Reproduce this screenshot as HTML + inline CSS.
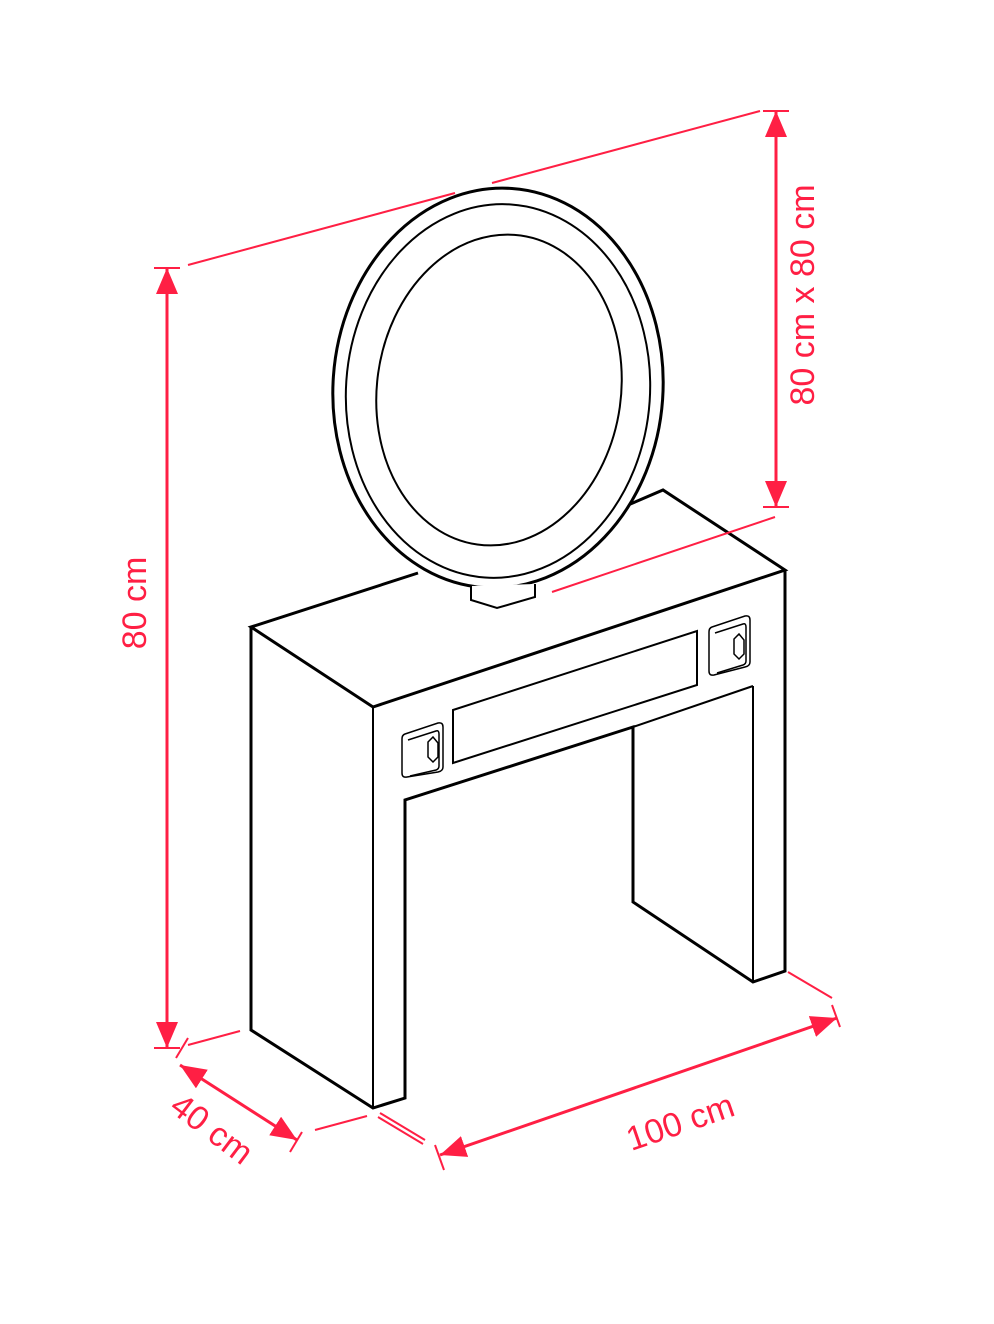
<!DOCTYPE html>
<html><head><meta charset="utf-8"><style>html,body{margin:0;padding:0;background:#fff}svg{display:block}</style></head>
<body>
<svg width="994" height="1324" viewBox="0 0 994 1324" xmlns="http://www.w3.org/2000/svg">
<defs>
<marker id="ah" viewBox="0 0 10 10" refX="10" refY="5" markerWidth="8" markerHeight="8" markerUnits="userSpaceOnUse" orient="auto-start-reverse"><path d="M0,0 L10,5 L0,10 z" fill="#ff1f44"/></marker>
<marker id="ab" viewBox="0 0 10 10" refX="10" refY="5" markerWidth="26" markerHeight="22" markerUnits="userSpaceOnUse" orient="auto-start-reverse" preserveAspectRatio="none"><path d="M0,0 L10,5 L0,10 z" fill="#ff1f44"/></marker>
</defs>
<g fill="none" stroke="#000" stroke-width="3" stroke-linejoin="miter">
<!-- table -->
<polyline points="418,573 251,627 373,707 785,570 663,490 628,505"/>
<polyline points="251,627 251,1030 373,1108 405,1098 405,800 633,727 633,902 753,982 785,971 785,570"/>
<line x1="373" y1="707" x2="373" y2="1108" stroke-width="2"/>
<line x1="633" y1="727" x2="753" y2="686" stroke-width="2"/>
<line x1="753" y1="686" x2="753" y2="982" stroke-width="2"/>
<polygon points="453,710 697,631 697,685 453,763" stroke-width="2"/>
<!-- knobs -->
<g stroke-width="1.5">
<path d="M405,734 L438,723 Q443,722 443,727 L443,767 Q443,771 438,772 L407,777 Q402,778 402,773 L402,739 Q402,735 405,734z"/>
<path d="M408,740 L436,731 Q439,730 439,734 L439,766 Q439,769 436,770 L410,776"/>
<polygon points="433,737 438,743 438,757 433,762 428,757 428,742"/>
<path d="M712,627 L745,616 Q750,615 750,620 L750,662 Q750,666 745,667 L714,675 Q709,676 709,671 L709,632 Q709,628 712,627z"/>
<path d="M715,633 L743,624 Q746,623 746,627 L746,661 Q746,664 743,665 L717,673"/>
<polygon points="739,634 744,640 744,654 739,659 734,654 734,639"/>
</g>
<!-- mirror -->
<ellipse cx="498" cy="388" rx="165" ry="200" fill="#fff" transform="rotate(4 498 388)"/>
<ellipse cx="498" cy="391" rx="152" ry="187" stroke-width="2" transform="rotate(4 498 391)"/>
<ellipse cx="499" cy="390" rx="122" ry="156" stroke-width="2" transform="rotate(8 499 390)"/>
<polyline points="471,586 471,600 497,608 535,597 535,584" stroke-width="2" fill="#fff"/>
</g>
<g stroke="#ff1f44" fill="none" stroke-width="2">
<line x1="188" y1="265" x2="455" y2="193"/>
<line x1="492" y1="183" x2="760" y2="111"/>
<line x1="763" y1="111" x2="789" y2="111"/>
<line x1="763" y1="507" x2="789" y2="507"/>
<line x1="776" y1="111" x2="776" y2="507" stroke-width="3" marker-start="url(#ab)" marker-end="url(#ab)"/>
<line x1="552" y1="592" x2="775" y2="517"/>
<line x1="154" y1="268" x2="180" y2="268"/>
<line x1="154" y1="1048" x2="180" y2="1048"/>
<line x1="167" y1="268" x2="167" y2="1048" stroke-width="3" marker-start="url(#ab)" marker-end="url(#ab)"/>
<line x1="188" y1="1045" x2="240" y2="1031"/>
<line x1="176" y1="1058" x2="188" y2="1038"/>
<line x1="290" y1="1152" x2="302" y2="1132"/>
<line x1="180" y1="1065" x2="297" y2="1140" stroke-width="3" marker-start="url(#ab)" marker-end="url(#ab)"/>
<line x1="315" y1="1130" x2="367" y2="1116"/>
<line x1="380" y1="1113" x2="425" y2="1140"/>
<line x1="378" y1="1117" x2="423" y2="1144"/>
<line x1="435" y1="1145" x2="444" y2="1170"/>
<line x1="832" y1="1005" x2="840" y2="1027"/>
<line x1="440" y1="1155" x2="837" y2="1018" stroke-width="3" marker-start="url(#ab)" marker-end="url(#ab)"/>
<line x1="788" y1="972" x2="832" y2="998"/>
</g>
<g fill="#ff1f44" font-family="Liberation Sans, sans-serif" font-size="34">
<text transform="translate(146,603) rotate(-90)" text-anchor="middle">80 cm</text>
<text transform="translate(814,295) rotate(-90)" text-anchor="middle">80 cm x 80 cm</text>
<text transform="translate(205,1138) rotate(37)" text-anchor="middle">40 cm</text>
<text transform="translate(684,1133) rotate(-19)" text-anchor="middle">100 cm</text>
</g>
</svg>
</body></html>
